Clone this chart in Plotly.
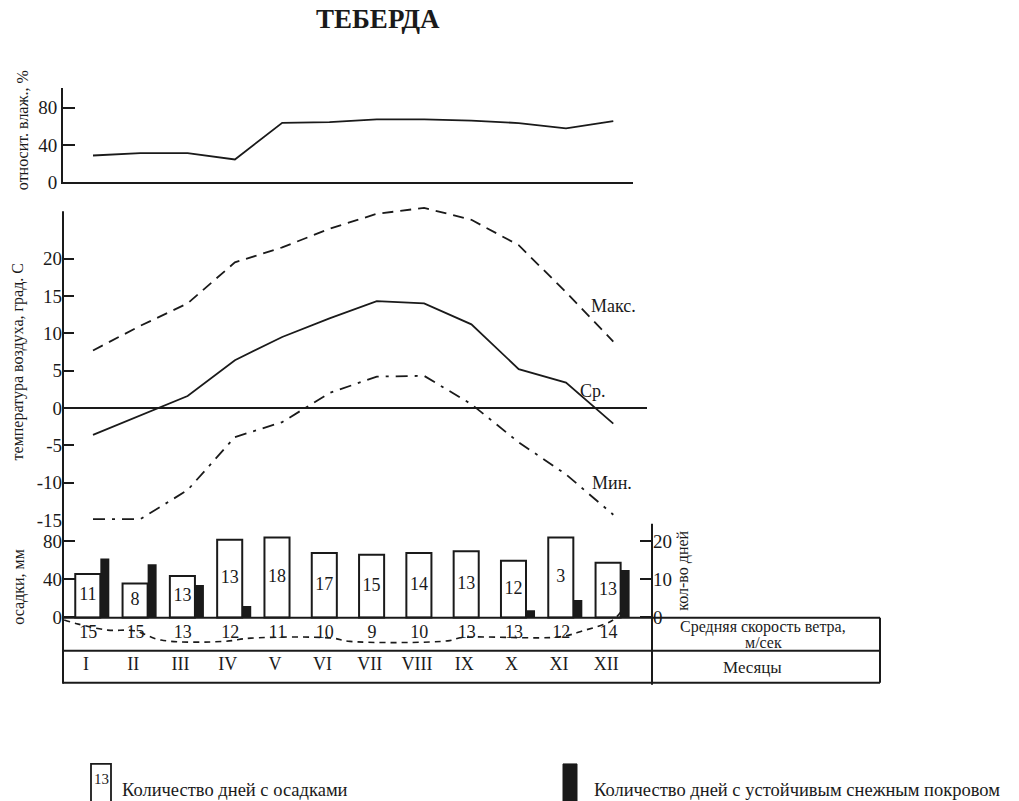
import plotly.graph_objects as go

# ---------------- data ----------------
months = list(range(1, 13))
month_labels = ["I", "II", "III", "IV", "V", "VI", "VII", "VIII", "IX", "X", "XI", "XII"]

humidity = [28.7, 31.2, 31.2, 24.4, 63.8, 64.5, 67.4, 67.4, 66.2, 63.5, 57.8, 65.6]

t_max = [7.7, 11.0, 14.0, 19.5, 21.5, 24.0, 26.0, 26.8, 25.2, 21.8, 15.5, 8.9]
t_mean = [-3.6, -1.0, 1.6, 6.4, 9.5, 12.0, 14.3, 14.0, 11.2, 5.2, 3.4, -2.1]
t_min = [-14.9, -14.9, -11.0, -3.9, -1.9, 2.0, 4.2, 4.3, 0.5, -4.6, -8.9, -14.3]
temp_ticks = [-15, -10, -5, 0, 5, 10, 15, 20]

precip_mm = [45.7, 35.8, 43.6, 81.8, 84.2, 67.8, 66.0, 67.8, 69.5, 59.7, 84.2, 57.6]
precip_days = [11, 8, 13, 13, 18, 17, 15, 14, 13, 12, 3, 13]
snow_days = [15.5, 14.0, 8.5, 3.0, 0, 0, 0, 0, 0, 1.9, 4.6, 12.5]

wind_speed = [15, 15, 13, 12, 11, 10, 9, 10, 13, 13, 12, 14]
# dashed wind curve drawn below the bars
wind_curve_month = [0.39, 0.69, 1.31, 1.87, 2.44, 3.77, 4.34, 6.05, 6.43, 8.5, 8.8, 10.87, 11.36, 11.97, 12.16]
wind_curve_mm = [-2.7, -7.0, -13.3, -14.0, -23.8, -25.2, -21.7, -21.7, -25.2, -24.6, -21.1, -20.4, -14.0, -3.5, 6.0]

# ---------------- geometry helpers ----------------
W, H = 1019, 801          # target picture size
FIG_H = 813               # canvas height (the photographed page is slightly taller than the window)
M0, DM = 93.0, 47.3       # pixel of month I, pixels per month


def px(x):
    return x / W


def py(y):
    return 1 - y / H


def xr(l, r):
    return [1 + (l - M0) / DM, 1 + (r - M0) / DM]


FONT = "Liberation Serif"
BLK = "#1a1a1a"

fig = go.Figure()

# humidity
fig.add_trace(go.Scatter(x=months, y=humidity, mode="lines", line=dict(color=BLK, width=1.8),
                         xaxis="x", yaxis="y", showlegend=False, hoverinfo="skip"))
# temperatures
fig.add_trace(go.Scatter(x=months, y=t_max, mode="lines", line=dict(color=BLK, width=1.8, dash="11px,7px"),
                         xaxis="x2", yaxis="y2", showlegend=False))
fig.add_trace(go.Scatter(x=months, y=t_mean, mode="lines", line=dict(color=BLK, width=1.8),
                         xaxis="x2", yaxis="y2", showlegend=False))
fig.add_trace(go.Scatter(x=months, y=t_min, mode="lines", line=dict(color=BLK, width=1.8, dash="12px,7px,3px,7px"),
                         xaxis="x2", yaxis="y2", showlegend=False))

# precipitation bars (white) and snow-cover days (black)
fig.add_trace(go.Bar(x=months, y=precip_mm, width=0.53, offset=-0.375,
                     marker=dict(color="white", line=dict(color=BLK, width=2)),
                     xaxis="x3", yaxis="y3", showlegend=False))
fig.add_trace(go.Bar(x=months, y=snow_days, width=0.19, offset=0.155,
                     marker=dict(color=BLK, line=dict(width=0)),
                     xaxis="x3", yaxis="y4", showlegend=False))
fig.add_trace(go.Scatter(x=[m - 0.11 for m in months], y=[v / 2 for v in precip_mm],
                         text=[str(d) for d in precip_days], mode="text",
                         textfont=dict(family=FONT, size=18, color=BLK),
                         xaxis="x3", yaxis="y3", showlegend=False))
# wind
fig.add_trace(go.Scatter(x=wind_curve_month, y=wind_curve_mm, mode="lines", line_shape="spline",
                         line=dict(color=BLK, width=1.6, dash="6px,5px"),
                         xaxis="x3", yaxis="y3", showlegend=False))
fig.add_trace(go.Scatter(x=[m - 0.1 for m in months], y=[-17.2] * 12,
                         text=[str(v) for v in wind_speed], mode="text",
                         textfont=dict(family=FONT, size=18, color=BLK),
                         xaxis="x3", yaxis="y3", showlegend=False))
fig.add_trace(go.Scatter(x=[m - 0.15 for m in months], y=[-50.8] * 12,
                         text=month_labels, mode="text",
                         textfont=dict(family=FONT, size=18, color=BLK),
                         xaxis="x3", yaxis="y3", showlegend=False))

tickfont = dict(family=FONT, size=19, color=BLK)
hid = dict(showgrid=False, zeroline=False, showticklabels=False, ticks="")

fig.update_layout(
    width=W, height=FIG_H, margin=dict(l=0, r=0, t=0, b=0),
    paper_bgcolor="white", plot_bgcolor="rgba(0,0,0,0)",
    barmode="overlay", font=dict(family=FONT, color=BLK),
    xaxis=dict(domain=[px(63), px(633)], range=xr(63, 633), anchor="y", showline=True,
               linecolor=BLK, linewidth=2, **hid),
    yaxis=dict(domain=[py(182), py(88)], range=[0, 101], anchor="x", showline=True,
               linecolor=BLK, linewidth=2, showgrid=False, zeroline=False,
               tickvals=[0, 40, 80], ticks="inside", ticklen=12, tickwidth=2, tickcolor=BLK,
               tickfont=tickfont),
    xaxis2=dict(domain=[px(63), px(647)], range=xr(63, 647), anchor="y2", **hid),
    yaxis2=dict(domain=[py(519.3), py(202)], range=[-15, 27.55], anchor="x2", showline=False,
                showgrid=False, zeroline=True, zerolinecolor=BLK, zerolinewidth=2,
                tickvals=temp_ticks, ticktext=[str(t) for t in temp_ticks],
                ticks="inside", ticklen=11, tickwidth=2, tickcolor=BLK, tickfont=tickfont),
    xaxis3=dict(domain=[px(63), px(652)], range=xr(63, 652), anchor="y3", **hid),
    yaxis3=dict(domain=[py(690), py(520)], range=[-77.2, 101.8], anchor="x3", showline=False,
                showgrid=False, zeroline=False, tickvals=[0, 40, 80], ticks="inside", ticklen=12,
                tickwidth=2, tickcolor=BLK, tickfont=tickfont),
    yaxis4=dict(overlaying="y3", side="right", anchor="free", position=px(652),
                range=[-19.3, 25.45], showline=False, showgrid=False, zeroline=False,
                tickvals=[0, 10, 20], ticks="inside", ticklen=12, tickwidth=2, tickcolor=BLK,
                tickfont=tickfont),
)

# frame lines (axis spine and wind / month table)
line = dict(color=BLK, width=2)
frame = [
    (63, 211, 63, 683),     # left spine through temperature and bottom panel
    (652, 523, 652, 684),   # right spine (days)
    (63, 617, 880, 617),
    (63, 650, 880, 650),
    (63, 682, 880, 682),
    (880, 617, 880, 682),
]
for x0, y0, x1, y1 in frame:
    fig.add_shape(type="line", xref="paper", yref="paper", x0=px(x0), y0=py(y0), x1=px(x1), y1=py(y1),
                  line=line)

# legend boxes
fig.add_shape(type="rect", xref="paper", yref="paper", x0=px(91), y0=py(805), x1=px(111), y1=py(763),
              line=dict(color=BLK, width=1.8), fillcolor="white")
fig.add_shape(type="rect", xref="paper", yref="paper", x0=px(563), y0=py(805), x1=px(577), y1=py(763),
              line=dict(color=BLK, width=1), fillcolor=BLK)

ann = []


def a(text, x, y, size=16, xa="center", **kw):
    ann.append(dict(text=text, x=px(x), y=py(y), xref="paper", yref="paper", showarrow=False,
                    xanchor=xa, yanchor="middle",
                    font=dict(family=FONT, size=size, color=BLK), **kw))


a("<b>ТЕБЕРДА</b>", 378, 19, size=27)
a("относит. влаж., %", 22, 130, size=16, textangle=-90)
a("температура воздуха, град. С", 18, 362, size=16, textangle=-90)
a("осадки, мм", 19, 586, size=16, textangle=-90)
a("кол-во дней", 683, 570, size=16, textangle=-90)
a("Средняя скорость ветра,", 763, 626, size=16)
a("м/сек", 763, 642, size=16)
a("Месяцы", 752, 667, size=17)
a("13", 101, 778, size=15)
a("Количество дней с осадками", 120, 789, size=18.5, xa="left")
a("Количество дней с устойчивым снежным покровом", 592, 789, size=18.5, xa="left")

# curve labels in data coordinates
for txt, m, t in [("Макс.", 11.49, 13.7), ("Ср.", 11.25, 2.3), ("Мин.", 11.5, -10.0)]:
    ann.append(dict(text=txt, x=m, y=t, xref="x2", yref="y2", showarrow=False, xanchor="left",
                    yanchor="middle", font=dict(family=FONT, size=18, color=BLK)))

fig.update_layout(annotations=ann)

post = ("document.documentElement.style.margin='0';document.body.style.margin='0';"
        "document.body.style.overflow='hidden';document.documentElement.style.overflow='hidden';"
        "var gd=document.getElementById('{plot_id}');gd.style.position='fixed';"
        "gd.style.top='0px';gd.style.left='0px';")
fig.write_html("out.html", config={"displayModeBar": False}, post_script=post)
